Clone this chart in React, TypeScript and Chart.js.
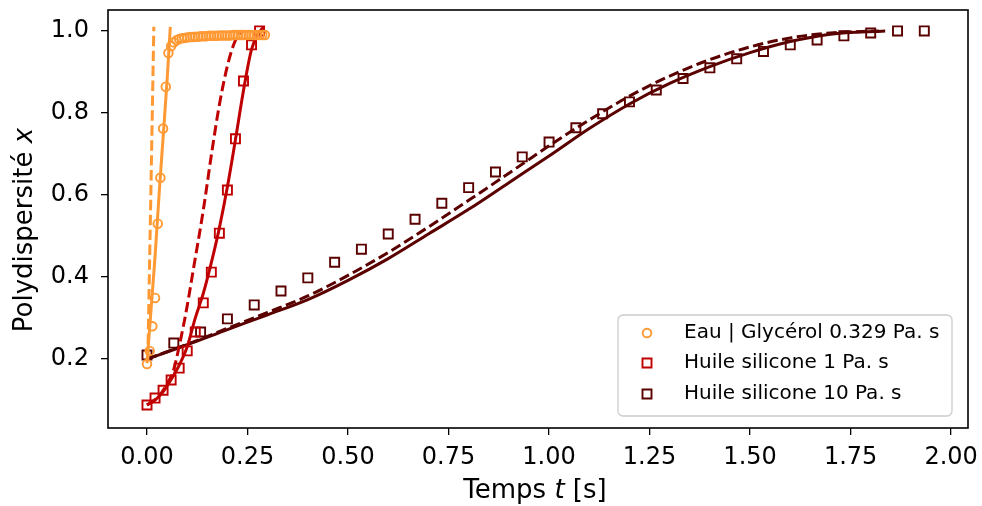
import React, { useEffect, useRef } from 'react';
import { Chart, registerables } from 'chart.js';
Chart.register(...registerables);

// ---- Data ----
const eauT = [0, 0.0067, 0.0133, 0.02, 0.0267, 0.0333, 0.04, 0.0467, 0.0533, 0.06, 0.0667, 0.0733, 0.08, 0.0867, 0.0933, 0.1, 0.1067, 0.1133, 0.12, 0.1267, 0.1333, 0.14, 0.1467, 0.1533, 0.16, 0.1667, 0.1733, 0.18, 0.1867, 0.1933, 0.2, 0.2067, 0.2133, 0.22, 0.2267, 0.2333, 0.24, 0.2467, 0.2533, 0.26, 0.2667, 0.2733, 0.28, 0.2867, 0.2933];
const eauX = [0.188, 0.22, 0.28, 0.349, 0.53, 0.642, 0.762, 0.864, 0.946, 0.963, 0.972, 0.977, 0.98, 0.982, 0.983, 0.984, 0.985, 0.985, 0.986, 0.986, 0.987, 0.987, 0.987, 0.988, 0.988, 0.988, 0.988, 0.989, 0.989, 0.989, 0.989, 0.989, 0.99, 0.99, 0.99, 0.99, 0.99, 0.99, 0.99, 0.99, 0.99, 0.99, 0.99, 0.99, 0.99];
const eauFitT = [0, 0.01, 0.02, 0.03, 0.04, 0.05, 0.058];
const eauFitX = [0.19, 0.32, 0.45, 0.6, 0.74, 0.88, 1.01];
const eauDashT = [0.002, 0.0095, 0.017];
const eauDashX = [0.2, 0.6, 1.01];

const h1T = [0, 0.02, 0.04, 0.06, 0.08, 0.1, 0.12, 0.14, 0.16, 0.18, 0.2, 0.22, 0.24, 0.26, 0.28];
const h1X = [0.088, 0.105, 0.124, 0.149, 0.178, 0.22, 0.266, 0.337, 0.412, 0.507, 0.612, 0.737, 0.878, 0.966, 1.0];
const h1FitT = [0, 0.02, 0.04, 0.06, 0.08, 0.1, 0.12, 0.14, 0.16, 0.18, 0.2, 0.22, 0.24, 0.26, 0.275, 0.29];
const h1FitX = [0.088, 0.1, 0.12, 0.15, 0.185, 0.23, 0.3, 0.36, 0.435, 0.52, 0.62, 0.735, 0.855, 0.955, 0.99, 1.01];
const h1DashT = [0, 0.03, 0.05, 0.065, 0.082, 0.1, 0.115, 0.14, 0.162, 0.18, 0.2, 0.215, 0.228, 0.24];
const h1DashX = [0.088, 0.11, 0.14, 0.17, 0.24, 0.33, 0.417, 0.563, 0.71, 0.82, 0.915, 0.965, 0.992, 1.0];

const h10T = [0, 0.0667, 0.1333, 0.2, 0.2667, 0.3333, 0.4, 0.4667, 0.5333, 0.6, 0.6667, 0.7333, 0.8, 0.8667, 0.9333, 1.0, 1.0667, 1.1333, 1.2, 1.2667, 1.3333, 1.4, 1.4667, 1.5333, 1.6, 1.6667, 1.7333, 1.8, 1.8667, 1.9333];
const h10X = [0.21, 0.239, 0.266, 0.298, 0.332, 0.366, 0.398, 0.436, 0.468, 0.505, 0.541, 0.58, 0.618, 0.656, 0.693, 0.729, 0.764, 0.798, 0.827, 0.856, 0.884, 0.91, 0.932, 0.95, 0.966, 0.978, 0.988, 0.995, 1.0, 1.0];
const h10FitT = [0, 0.1, 0.2, 0.3, 0.4, 0.5, 0.6, 0.7, 0.8, 0.9, 1.0, 1.1, 1.2, 1.3, 1.4, 1.5, 1.6, 1.7, 1.836];
const h10FitX = [0.2, 0.235, 0.272, 0.308, 0.345, 0.392, 0.445, 0.505, 0.565, 0.63, 0.695, 0.762, 0.822, 0.872, 0.913, 0.947, 0.974, 0.992, 1.0];
const h10DashT = [0, 0.1, 0.2, 0.3, 0.4, 0.5, 0.6, 0.7, 0.8, 0.9, 1.0, 1.1, 1.2, 1.3, 1.4, 1.5, 1.6, 1.7, 1.82];
const h10DashX = [0.2, 0.236, 0.275, 0.314, 0.354, 0.404, 0.46, 0.522, 0.587, 0.653, 0.72, 0.783, 0.841, 0.89, 0.93, 0.961, 0.983, 0.995, 1.0];

const xTicks = [0, 0.25, 0.5, 0.75, 1.0, 1.25, 1.5, 1.75, 2.0];
const yTicks = [0.2, 0.4, 0.6, 0.8, 1.0];
const legendLabels = ['Eau | Glycérol 0.329 Pa. s', 'Huile silicone 1 Pa. s', 'Huile silicone 10 Pa. s'];

const ORANGE = '#ff9933';
const RED = '#c00000';
const DARK = '#5a0000';
const FONT = '"DejaVu Sans", sans-serif';

const pts = (t: number[], v: number[]) => t.map((x, i) => ({ x, y: v[i] }));

function lineDs(t: number[], v: number[], color: string, dashed: boolean) {
  return {
    data: pts(t, v),
    showLine: true,
    borderColor: color,
    backgroundColor: color,
    borderWidth: 3,
    borderDash: dashed ? [10.4, 4.5] : [],
    pointRadius: 0,
    cubicInterpolationMode: 'monotone' as const,
  };
}
function markDs(t: number[], v: number[], color: string, style: string, r: number) {
  return {
    data: pts(t, v),
    showLine: false,
    borderColor: color,
    backgroundColor: 'rgba(0,0,0,0)',
    borderWidth: 1.9,
    pointStyle: style,
    pointRadius: r,
  };
}

function drawMixed(ctx: CanvasRenderingContext2D, parts: { t: string; it?: boolean }[], x: number, y: number, size: number) {
  const fonts = parts.map(p => `${p.it ? 'italic ' : ''}${size}px ${FONT}`);
  let total = 0;
  const widths = parts.map((p, i) => { ctx.font = fonts[i]; const w = ctx.measureText(p.t).width; total += w; return w; });
  let cx = x - total / 2;
  ctx.textAlign = 'left';
  ctx.textBaseline = 'middle';
  parts.forEach((p, i) => { ctx.font = fonts[i]; ctx.fillText(p.t, cx, y); cx += widths[i]; });
}

const decor = {
  id: 'decor',
  afterDraw(chart: any) {
    const { ctx, chartArea: a } = chart;
    ctx.save();
    ctx.strokeStyle = '#000';
    ctx.lineWidth = 1.6;
    ctx.strokeRect(a.left, a.top, a.right - a.left, a.bottom - a.top);
    ctx.fillStyle = '#000';
    drawMixed(ctx, [{ t: 'Temps ' }, { t: 't', it: true }, { t: ' [s]' }], 535, 491, 26);
    ctx.save();
    ctx.translate(25, 230);
    ctx.rotate(-Math.PI / 2);
    drawMixed(ctx, [{ t: 'Polydispersité ' }, { t: 'x', it: true }], 0, 0, 26);
    ctx.restore();
    // legend
    const bx = 618, by = 315, bw = 334, bh = 101, rr = 5;
    ctx.beginPath();
    ctx.moveTo(bx + rr, by);
    ctx.arcTo(bx + bw, by, bx + bw, by + bh, rr);
    ctx.arcTo(bx + bw, by + bh, bx, by + bh, rr);
    ctx.arcTo(bx, by + bh, bx, by, rr);
    ctx.arcTo(bx, by, bx + bw, by, rr);
    ctx.closePath();
    ctx.fillStyle = 'rgba(255,255,255,0.8)';
    ctx.fill();
    ctx.strokeStyle = '#cccccc';
    ctx.lineWidth = 1.3;
    ctx.stroke();
    const colors = [ORANGE, RED, DARK];
    const rows = [333, 363, 394];
    rows.forEach((ry, i) => {
      ctx.strokeStyle = colors[i];
      ctx.lineWidth = 1.9;
      ctx.beginPath();
      if (i === 0) ctx.arc(647, ry, 4.3, 0, Math.PI * 2);
      else ctx.rect(647 - 4.5, ry - 4.5, 9, 9);
      ctx.stroke();
      ctx.fillStyle = '#000';
      ctx.font = `20px ${FONT}`;
      ctx.textAlign = 'left';
      ctx.textBaseline = 'middle';
      ctx.fillText(legendLabels[i], 684, ry);
    });
    ctx.restore();
  },
};

export default function App() {
  const ref = useRef<HTMLCanvasElement>(null);
  useEffect(() => {
    const chart = new Chart(ref.current!, {
      type: 'scatter',
      data: {
        datasets: [
          markDs(eauT, eauX, ORANGE, 'circle', 4.3),
          lineDs(eauFitT, eauFitX, ORANGE, false),
          lineDs(eauDashT, eauDashX, ORANGE, true),
          markDs(h1T, h1X, RED, 'rect', 6.4),
          lineDs(h1FitT, h1FitX, RED, false),
          lineDs(h1DashT, h1DashX, RED, true),
          markDs(h10T, h10X, DARK, 'rect', 6.4),
          lineDs(h10FitT, h10FitX, DARK, false),
          lineDs(h10DashT, h10DashX, DARK, true),
        ] as any,
      },
      options: {
        animation: false,
        responsive: false,
        devicePixelRatio: 1,
        layout: { padding: { left: 0, right: 14, top: 10, bottom: 0 } },
        plugins: { legend: { display: false }, tooltip: { enabled: false } },
        scales: {
          x: {
            type: 'linear',
            min: -0.097,
            max: 2.042,
            afterBuildTicks: (s: any) => { s.ticks = xTicks.map(v => ({ value: v })); },
            afterFit: (s: any) => { s.height = 78; s.paddingLeft = 0; s.paddingRight = 0; },
            ticks: { callback: (v: any) => Number(v).toFixed(2), color: '#000', font: { family: FONT, size: 24 }, padding: 8, maxRotation: 0, autoSkip: false },
            grid: { drawOnChartArea: false, drawTicks: true, tickLength: 7, color: '#000', lineWidth: 1.3 },
            border: { display: false },
          },
          y: {
            type: 'linear',
            min: 0.032,
            max: 1.051,
            afterBuildTicks: (s: any) => { s.ticks = yTicks.map(v => ({ value: v })); },
            afterFit: (s: any) => { s.width = 108; s.paddingTop = 0; s.paddingBottom = 0; },
            ticks: { callback: (v: any) => Number(v).toFixed(1), color: '#000', font: { family: FONT, size: 24 }, padding: 12, autoSkip: false },
            grid: { drawOnChartArea: false, drawTicks: true, tickLength: 7, color: '#000', lineWidth: 1.3 },
            border: { display: false },
          },
        },
      },
      plugins: [decor],
    });
    return () => chart.destroy();
  }, []);
  return (
    <canvas ref={ref} width={982} height={506} style={{ position: 'absolute', left: 0, top: 0, width: 982, height: 506 }} />
  );
}
